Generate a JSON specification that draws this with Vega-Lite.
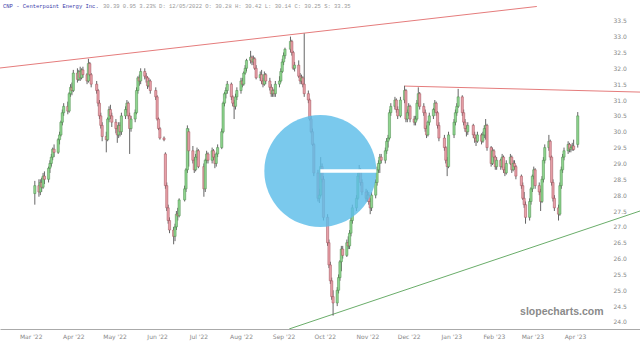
{
"$schema": "https://vega.github.io/schema/vega-lite/v6.json",
"width": 640, "height": 329, "autosize": "none", "padding": {"left": 0, "top": 0, "right": 0, "bottom": 14}, "background": "white",
"config": {"view": {"stroke": null}, "font": "DejaVu Sans", "axis": {"labelOverlap": false, "labelSeparation": 0},
  "axisY": {"labelFontSize": 6, "labelColor": "#888", "domain": false, "ticks": false, "grid": false, "labelPadding": 3},
  "scale": {"continuousPadding": 0}},
"datasets": {
"ohlc": [
{"d":"2022-03-04","o":28.05,"h":28.45,"l":27.7,"c":28.3},
{"d":"2022-03-07","o":28.3,"h":28.5,"l":27.95,"c":28.1},
{"d":"2022-03-08","o":28.1,"h":28.5,"l":28.0,"c":28.4},
{"d":"2022-03-09","o":28.4,"h":28.55,"l":28.1,"c":28.25},
{"d":"2022-03-10","o":28.25,"h":28.7,"l":28.2,"c":28.6},
{"d":"2022-03-11","o":28.6,"h":28.75,"l":28.35,"c":28.5},
{"d":"2022-03-14","o":28.5,"h":28.9,"l":28.4,"c":28.85},
{"d":"2022-03-15","o":28.85,"h":29.1,"l":28.7,"c":29.0},
{"d":"2022-03-16","o":29.0,"h":29.3,"l":28.9,"c":29.2},
{"d":"2022-03-17","o":29.2,"h":29.5,"l":29.1,"c":29.45},
{"d":"2022-03-18","o":29.45,"h":29.6,"l":29.2,"c":29.35},
{"d":"2022-03-21","o":29.35,"h":29.8,"l":29.3,"c":29.75},
{"d":"2022-03-22","o":29.75,"h":30.0,"l":29.6,"c":29.9},
{"d":"2022-03-23","o":29.9,"h":30.35,"l":29.85,"c":30.3},
{"d":"2022-03-24","o":30.3,"h":30.7,"l":30.2,"c":30.6},
{"d":"2022-03-25","o":30.6,"h":30.9,"l":30.5,"c":30.8},
{"d":"2022-03-28","o":30.8,"h":30.95,"l":30.55,"c":30.65},
{"d":"2022-03-29","o":30.65,"h":31.25,"l":30.6,"c":31.2},
{"d":"2022-03-30","o":31.2,"h":31.5,"l":31.1,"c":31.4},
{"d":"2022-03-31","o":31.4,"h":31.55,"l":31.15,"c":31.3},
{"d":"2022-04-01","o":31.3,"h":31.95,"l":31.25,"c":31.85},
{"d":"2022-04-04","o":31.85,"h":32.0,"l":31.55,"c":31.65},
{"d":"2022-04-05","o":31.65,"h":31.95,"l":31.6,"c":31.9},
{"d":"2022-04-06","o":31.9,"h":32.05,"l":31.6,"c":31.7},
{"d":"2022-04-07","o":31.7,"h":32.0,"l":31.65,"c":31.95},
{"d":"2022-04-08","o":31.95,"h":32.05,"l":31.7,"c":31.8},
{"d":"2022-04-11","o":31.8,"h":31.85,"l":31.5,"c":31.6},
{"d":"2022-04-12","o":31.6,"h":32.3,"l":31.55,"c":32.15},
{"d":"2022-04-13","o":32.15,"h":32.2,"l":31.75,"c":31.8},
{"d":"2022-04-14","o":31.8,"h":31.85,"l":31.4,"c":31.5},
{"d":"2022-04-18","o":31.5,"h":31.6,"l":31.2,"c":31.3},
{"d":"2022-04-19","o":31.3,"h":31.35,"l":30.8,"c":30.9},
{"d":"2022-04-20","o":30.9,"h":31.0,"l":30.4,"c":30.5},
{"d":"2022-04-21","o":30.5,"h":30.6,"l":30.1,"c":30.2},
{"d":"2022-04-22","o":30.2,"h":30.3,"l":29.7,"c":29.85},
{"d":"2022-04-25","o":29.85,"h":30.0,"l":29.35,"c":29.75},
{"d":"2022-04-26","o":29.75,"h":30.45,"l":29.7,"c":30.4},
{"d":"2022-04-27","o":30.4,"h":30.8,"l":30.3,"c":30.7},
{"d":"2022-04-28","o":30.7,"h":30.85,"l":30.4,"c":30.5},
{"d":"2022-04-29","o":30.5,"h":30.6,"l":30.15,"c":30.3},
{"d":"2022-05-02","o":30.3,"h":30.4,"l":29.95,"c":30.1},
{"d":"2022-05-03","o":30.1,"h":30.2,"l":29.65,"c":29.9},
{"d":"2022-05-04","o":29.9,"h":30.3,"l":29.8,"c":30.2},
{"d":"2022-05-05","o":30.2,"h":30.3,"l":29.85,"c":30.0},
{"d":"2022-05-06","o":30.0,"h":30.6,"l":29.9,"c":30.5},
{"d":"2022-05-09","o":30.5,"h":30.8,"l":30.4,"c":30.7},
{"d":"2022-05-10","o":30.7,"h":31.0,"l":30.6,"c":30.9},
{"d":"2022-05-11","o":30.9,"h":30.95,"l":30.4,"c":30.5},
{"d":"2022-05-12","o":30.5,"h":30.6,"l":29.3,"c":30.1},
{"d":"2022-05-13","o":30.1,"h":30.5,"l":30.0,"c":30.4},
{"d":"2022-05-16","o":30.4,"h":30.7,"l":30.3,"c":30.6},
{"d":"2022-05-17","o":30.6,"h":31.4,"l":30.55,"c":31.3},
{"d":"2022-05-18","o":31.3,"h":31.75,"l":31.2,"c":31.7},
{"d":"2022-05-19","o":31.7,"h":31.8,"l":31.45,"c":31.6},
{"d":"2022-05-20","o":31.6,"h":32.0,"l":31.5,"c":31.9},
{"d":"2022-05-23","o":31.9,"h":32.0,"l":31.65,"c":31.75},
{"d":"2022-05-24","o":31.75,"h":31.85,"l":31.55,"c":31.7},
{"d":"2022-05-25","o":31.7,"h":31.75,"l":31.35,"c":31.45},
{"d":"2022-05-26","o":31.45,"h":31.7,"l":31.4,"c":31.6},
{"d":"2022-05-27","o":31.6,"h":31.65,"l":31.2,"c":31.3},
{"d":"2022-05-31","o":31.3,"h":31.4,"l":31.0,"c":31.1},
{"d":"2022-06-01","o":31.1,"h":31.15,"l":30.35,"c":30.4},
{"d":"2022-06-02","o":30.4,"h":30.45,"l":30.05,"c":30.1},
{"d":"2022-06-03","o":30.1,"h":30.15,"l":29.75,"c":29.8},
{"d":"2022-06-06","o":29.8,"h":29.85,"l":29.7,"c":29.75},
{"d":"2022-06-07","o":29.3,"h":29.35,"l":28.2,"c":28.3},
{"d":"2022-06-08","o":28.3,"h":28.4,"l":27.5,"c":27.6},
{"d":"2022-06-09","o":27.6,"h":27.7,"l":27.1,"c":27.2},
{"d":"2022-06-10","o":27.2,"h":27.3,"l":26.8,"c":26.9},
{"d":"2022-06-13","o":26.9,"h":27.0,"l":26.45,"c":26.7},
{"d":"2022-06-14","o":26.7,"h":27.1,"l":26.55,"c":27.0},
{"d":"2022-06-15","o":27.0,"h":27.5,"l":26.9,"c":27.4},
{"d":"2022-06-16","o":27.4,"h":27.6,"l":27.2,"c":27.35},
{"d":"2022-06-17","o":27.35,"h":27.9,"l":27.3,"c":27.85},
{"d":"2022-06-21","o":27.85,"h":28.3,"l":27.8,"c":28.2},
{"d":"2022-06-22","o":28.2,"h":28.85,"l":28.1,"c":28.8},
{"d":"2022-06-23","o":28.8,"h":30.2,"l":28.7,"c":30.1},
{"d":"2022-06-24","o":30.0,"h":30.1,"l":28.9,"c":29.4},
{"d":"2022-06-27","o":29.4,"h":29.55,"l":29.0,"c":29.1},
{"d":"2022-06-28","o":29.1,"h":29.2,"l":28.7,"c":28.8},
{"d":"2022-06-29","o":28.8,"h":29.3,"l":28.75,"c":29.2},
{"d":"2022-06-30","o":29.2,"h":29.5,"l":29.1,"c":29.4},
{"d":"2022-07-01","o":29.4,"h":29.45,"l":28.85,"c":28.9},
{"d":"2022-07-05","o":28.9,"h":29.0,"l":27.95,"c":28.2},
{"d":"2022-07-06","o":28.2,"h":29.15,"l":28.1,"c":29.1},
{"d":"2022-07-07","o":29.1,"h":29.4,"l":29.0,"c":29.3},
{"d":"2022-07-08","o":29.3,"h":29.35,"l":29.0,"c":29.1},
{"d":"2022-07-11","o":29.1,"h":29.5,"l":29.0,"c":29.4},
{"d":"2022-07-12","o":29.4,"h":29.45,"l":29.1,"c":29.2},
{"d":"2022-07-13","o":29.2,"h":29.3,"l":28.85,"c":29.0},
{"d":"2022-07-14","o":29.0,"h":29.35,"l":28.9,"c":29.3},
{"d":"2022-07-15","o":29.3,"h":29.6,"l":29.2,"c":29.5},
{"d":"2022-07-18","o":29.5,"h":30.1,"l":29.45,"c":30.0},
{"d":"2022-07-19","o":30.0,"h":30.95,"l":29.95,"c":30.9},
{"d":"2022-07-20","o":30.9,"h":31.25,"l":30.8,"c":31.2},
{"d":"2022-07-21","o":31.2,"h":31.4,"l":31.05,"c":31.3},
{"d":"2022-07-22","o":31.3,"h":31.6,"l":31.2,"c":31.5},
{"d":"2022-07-25","o":31.5,"h":31.55,"l":31.0,"c":31.1},
{"d":"2022-07-26","o":31.1,"h":31.15,"l":30.8,"c":30.9},
{"d":"2022-07-27","o":30.9,"h":31.0,"l":30.4,"c":30.8},
{"d":"2022-07-28","o":30.8,"h":31.2,"l":30.7,"c":31.1},
{"d":"2022-07-29","o":31.1,"h":31.4,"l":31.0,"c":31.3},
{"d":"2022-08-01","o":31.3,"h":31.7,"l":31.2,"c":31.6},
{"d":"2022-08-02","o":31.6,"h":31.7,"l":31.4,"c":31.5},
{"d":"2022-08-03","o":31.5,"h":31.9,"l":31.45,"c":31.85},
{"d":"2022-08-04","o":31.85,"h":32.1,"l":31.8,"c":32.0},
{"d":"2022-08-05","o":32.0,"h":32.3,"l":31.9,"c":32.25},
{"d":"2022-08-08","o":32.25,"h":32.55,"l":32.15,"c":32.35},
{"d":"2022-08-09","o":32.35,"h":32.4,"l":32.1,"c":32.2},
{"d":"2022-08-10","o":32.2,"h":32.4,"l":32.1,"c":32.3},
{"d":"2022-08-11","o":32.3,"h":32.35,"l":31.95,"c":32.0},
{"d":"2022-08-12","o":32.0,"h":32.1,"l":31.65,"c":31.7},
{"d":"2022-08-15","o":31.7,"h":31.9,"l":31.6,"c":31.8},
{"d":"2022-08-16","o":31.8,"h":31.95,"l":31.5,"c":31.6},
{"d":"2022-08-17","o":31.6,"h":31.7,"l":31.4,"c":31.5},
{"d":"2022-08-18","o":31.5,"h":31.9,"l":31.45,"c":31.8},
{"d":"2022-08-19","o":31.8,"h":31.85,"l":31.5,"c":31.6},
{"d":"2022-08-22","o":31.6,"h":31.7,"l":31.3,"c":31.4},
{"d":"2022-08-23","o":31.4,"h":31.5,"l":31.1,"c":31.2},
{"d":"2022-08-24","o":31.2,"h":31.4,"l":31.1,"c":31.3},
{"d":"2022-08-25","o":31.3,"h":31.35,"l":31.1,"c":31.2},
{"d":"2022-08-26","o":31.2,"h":31.6,"l":31.1,"c":31.5},
{"d":"2022-08-29","o":31.5,"h":31.75,"l":31.4,"c":31.6},
{"d":"2022-08-30","o":31.6,"h":32.0,"l":31.55,"c":31.9},
{"d":"2022-08-31","o":31.9,"h":32.3,"l":31.85,"c":32.2},
{"d":"2022-09-01","o":32.2,"h":32.5,"l":32.1,"c":32.4},
{"d":"2022-09-02","o":32.4,"h":32.65,"l":32.3,"c":32.6},
{"d":"2022-09-06","o":32.6,"h":33.0,"l":32.5,"c":32.85},
{"d":"2022-09-07","o":32.85,"h":32.9,"l":32.4,"c":32.5},
{"d":"2022-09-08","o":32.5,"h":32.55,"l":31.95,"c":32.0},
{"d":"2022-09-09","o":32.0,"h":32.2,"l":31.9,"c":32.1},
{"d":"2022-09-12","o":32.1,"h":32.25,"l":31.7,"c":31.75},
{"d":"2022-09-13","o":31.75,"h":31.85,"l":31.5,"c":31.6},
{"d":"2022-09-14","o":31.6,"h":31.8,"l":31.5,"c":31.7},
{"d":"2022-09-15","o":31.7,"h":31.75,"l":31.4,"c":31.5},
{"d":"2022-09-16","o":31.5,"h":33.1,"l":31.1,"c":31.2},
{"d":"2022-09-19","o":31.2,"h":31.3,"l":30.9,"c":31.0},
{"d":"2022-09-20","o":31.0,"h":31.05,"l":30.35,"c":30.4},
{"d":"2022-09-21","o":30.4,"h":30.5,"l":29.95,"c":30.0},
{"d":"2022-09-22","o":30.0,"h":30.1,"l":29.55,"c":29.6},
{"d":"2022-09-23","o":29.6,"h":29.65,"l":28.6,"c":28.7},
{"d":"2022-09-26","o":28.7,"h":28.8,"l":27.8,"c":27.9},
{"d":"2022-09-27","o":27.9,"h":28.2,"l":27.75,"c":28.0},
{"d":"2022-09-28","o":28.0,"h":29.2,"l":27.95,"c":28.9},
{"d":"2022-09-29","o":28.9,"h":29.0,"l":28.4,"c":28.5},
{"d":"2022-09-30","o":28.5,"h":28.6,"l":27.2,"c":27.3},
{"d":"2022-10-03","o":27.3,"h":27.4,"l":26.4,"c":26.5},
{"d":"2022-10-04","o":26.5,"h":26.6,"l":25.7,"c":25.8},
{"d":"2022-10-05","o":25.8,"h":25.9,"l":25.2,"c":25.3},
{"d":"2022-10-06","o":25.3,"h":25.4,"l":24.7,"c":24.8},
{"d":"2022-10-07","o":24.8,"h":25.0,"l":24.2,"c":24.6},
{"d":"2022-10-10","o":24.6,"h":25.1,"l":24.5,"c":25.0},
{"d":"2022-10-11","o":25.0,"h":25.5,"l":24.9,"c":25.4},
{"d":"2022-10-12","o":25.4,"h":25.95,"l":25.3,"c":25.9},
{"d":"2022-10-13","o":25.9,"h":26.4,"l":25.6,"c":26.3},
{"d":"2022-10-14","o":26.3,"h":26.4,"l":26.0,"c":26.1},
{"d":"2022-10-17","o":26.1,"h":26.6,"l":26.05,"c":26.5},
{"d":"2022-10-18","o":26.5,"h":26.7,"l":26.3,"c":26.4},
{"d":"2022-10-19","o":26.4,"h":26.9,"l":26.3,"c":26.8},
{"d":"2022-10-20","o":26.8,"h":27.3,"l":26.7,"c":27.2},
{"d":"2022-10-21","o":27.2,"h":27.7,"l":27.1,"c":27.6},
{"d":"2022-10-24","o":27.6,"h":28.0,"l":27.5,"c":27.9},
{"d":"2022-10-25","o":27.9,"h":28.7,"l":27.85,"c":28.6},
{"d":"2022-10-26","o":28.6,"h":28.95,"l":28.5,"c":28.8},
{"d":"2022-10-27","o":28.8,"h":28.85,"l":28.3,"c":28.4},
{"d":"2022-10-28","o":28.4,"h":28.5,"l":28.0,"c":28.1},
{"d":"2022-10-31","o":28.1,"h":28.2,"l":27.8,"c":27.9},
{"d":"2022-11-01","o":27.9,"h":28.15,"l":27.8,"c":28.0},
{"d":"2022-11-02","o":28.0,"h":28.1,"l":27.7,"c":27.8},
{"d":"2022-11-03","o":27.8,"h":27.9,"l":27.4,"c":27.6},
{"d":"2022-11-04","o":27.6,"h":28.1,"l":27.5,"c":28.0},
{"d":"2022-11-07","o":28.0,"h":28.5,"l":27.9,"c":28.4},
{"d":"2022-11-08","o":28.4,"h":28.9,"l":28.3,"c":28.8},
{"d":"2022-11-09","o":28.8,"h":29.1,"l":28.7,"c":29.0},
{"d":"2022-11-10","o":29.0,"h":29.3,"l":28.7,"c":29.2},
{"d":"2022-11-11","o":29.2,"h":29.3,"l":29.0,"c":29.1},
{"d":"2022-11-14","o":29.1,"h":29.5,"l":29.0,"c":29.4},
{"d":"2022-11-15","o":29.4,"h":29.8,"l":29.3,"c":29.7},
{"d":"2022-11-16","o":29.7,"h":29.9,"l":29.5,"c":29.8},
{"d":"2022-11-17","o":29.8,"h":30.7,"l":29.75,"c":30.6},
{"d":"2022-11-18","o":30.6,"h":30.9,"l":30.5,"c":30.8},
{"d":"2022-11-21","o":30.8,"h":31.1,"l":30.7,"c":31.0},
{"d":"2022-11-22","o":31.0,"h":31.05,"l":30.6,"c":30.7},
{"d":"2022-11-23","o":30.7,"h":30.8,"l":30.4,"c":30.5},
{"d":"2022-11-25","o":30.5,"h":31.1,"l":30.45,"c":31.0},
{"d":"2022-11-28","o":31.0,"h":31.45,"l":30.9,"c":31.3},
{"d":"2022-11-29","o":31.3,"h":31.35,"l":30.3,"c":30.4},
{"d":"2022-11-30","o":30.4,"h":30.7,"l":30.3,"c":30.6},
{"d":"2022-12-01","o":30.6,"h":30.9,"l":30.5,"c":30.8},
{"d":"2022-12-02","o":30.8,"h":30.85,"l":30.3,"c":30.4},
{"d":"2022-12-05","o":30.4,"h":30.5,"l":30.2,"c":30.3},
{"d":"2022-12-06","o":30.3,"h":30.5,"l":30.2,"c":30.4},
{"d":"2022-12-07","o":30.4,"h":31.0,"l":30.35,"c":30.9},
{"d":"2022-12-08","o":30.9,"h":31.4,"l":30.8,"c":31.2},
{"d":"2022-12-09","o":31.2,"h":31.25,"l":30.7,"c":30.8},
{"d":"2022-12-12","o":30.8,"h":30.9,"l":30.5,"c":30.6},
{"d":"2022-12-13","o":30.6,"h":30.7,"l":30.0,"c":30.1},
{"d":"2022-12-14","o":30.1,"h":30.2,"l":29.8,"c":29.9},
{"d":"2022-12-15","o":29.9,"h":30.35,"l":29.85,"c":30.3},
{"d":"2022-12-16","o":30.3,"h":30.6,"l":30.2,"c":30.5},
{"d":"2022-12-19","o":30.5,"h":30.75,"l":30.4,"c":30.7},
{"d":"2022-12-20","o":30.7,"h":31.0,"l":30.6,"c":30.9},
{"d":"2022-12-21","o":30.9,"h":30.95,"l":30.5,"c":30.6},
{"d":"2022-12-22","o":30.6,"h":30.65,"l":30.1,"c":30.2},
{"d":"2022-12-23","o":30.2,"h":30.3,"l":29.7,"c":29.8},
{"d":"2022-12-27","o":29.8,"h":29.9,"l":29.4,"c":29.5},
{"d":"2022-12-28","o":29.5,"h":29.55,"l":29.0,"c":29.1},
{"d":"2022-12-29","o":29.1,"h":29.2,"l":28.6,"c":28.9},
{"d":"2022-12-30","o":28.9,"h":30.0,"l":28.85,"c":29.9},
{"d":"2023-01-03","o":29.9,"h":30.4,"l":29.8,"c":30.3},
{"d":"2023-01-04","o":30.3,"h":30.7,"l":30.2,"c":30.6},
{"d":"2023-01-05","o":30.6,"h":30.9,"l":30.5,"c":30.8},
{"d":"2023-01-06","o":30.8,"h":31.35,"l":30.75,"c":31.1},
{"d":"2023-01-09","o":31.1,"h":31.15,"l":30.5,"c":30.6},
{"d":"2023-01-10","o":30.6,"h":30.7,"l":30.2,"c":30.3},
{"d":"2023-01-11","o":30.3,"h":30.4,"l":30.0,"c":30.1},
{"d":"2023-01-12","o":30.1,"h":30.2,"l":29.85,"c":30.0},
{"d":"2023-01-13","o":30.0,"h":30.3,"l":29.9,"c":30.2},
{"d":"2023-01-17","o":30.2,"h":30.25,"l":29.8,"c":29.9},
{"d":"2023-01-18","o":29.9,"h":30.0,"l":29.65,"c":29.8},
{"d":"2023-01-19","o":29.8,"h":29.9,"l":29.55,"c":29.7},
{"d":"2023-01-20","o":29.7,"h":30.0,"l":29.65,"c":29.9},
{"d":"2023-01-23","o":29.9,"h":29.95,"l":29.6,"c":29.7},
{"d":"2023-01-24","o":29.7,"h":30.0,"l":29.65,"c":29.9},
{"d":"2023-01-25","o":29.9,"h":30.2,"l":29.8,"c":30.1},
{"d":"2023-01-26","o":30.1,"h":30.4,"l":29.75,"c":30.2},
{"d":"2023-01-27","o":30.2,"h":30.25,"l":29.4,"c":29.5},
{"d":"2023-01-30","o":29.5,"h":29.55,"l":28.9,"c":29.0},
{"d":"2023-01-31","o":29.0,"h":29.5,"l":28.95,"c":29.4},
{"d":"2023-02-01","o":29.4,"h":29.45,"l":29.05,"c":29.2},
{"d":"2023-02-02","o":29.2,"h":29.25,"l":28.8,"c":28.9},
{"d":"2023-02-03","o":28.9,"h":29.2,"l":28.8,"c":29.1},
{"d":"2023-02-06","o":29.1,"h":29.15,"l":28.8,"c":28.9},
{"d":"2023-02-07","o":28.9,"h":29.3,"l":28.85,"c":29.2},
{"d":"2023-02-08","o":29.2,"h":29.25,"l":28.7,"c":28.8},
{"d":"2023-02-09","o":28.8,"h":28.9,"l":28.6,"c":28.7},
{"d":"2023-02-10","o":28.7,"h":29.1,"l":28.65,"c":29.0},
{"d":"2023-02-13","o":29.0,"h":29.3,"l":28.95,"c":29.2},
{"d":"2023-02-14","o":29.2,"h":29.25,"l":28.7,"c":28.8},
{"d":"2023-02-15","o":28.8,"h":29.1,"l":28.75,"c":29.0},
{"d":"2023-02-16","o":29.0,"h":29.1,"l":28.8,"c":28.9},
{"d":"2023-02-17","o":28.9,"h":28.95,"l":28.5,"c":28.6},
{"d":"2023-02-21","o":28.6,"h":28.65,"l":28.2,"c":28.3},
{"d":"2023-02-22","o":28.3,"h":28.4,"l":27.85,"c":27.9},
{"d":"2023-02-23","o":27.9,"h":28.1,"l":27.6,"c":27.7},
{"d":"2023-02-24","o":27.7,"h":27.8,"l":27.1,"c":27.3},
{"d":"2023-02-27","o":27.3,"h":27.9,"l":27.2,"c":27.8},
{"d":"2023-02-28","o":27.8,"h":28.25,"l":27.7,"c":28.2},
{"d":"2023-03-01","o":28.2,"h":28.65,"l":28.1,"c":28.6},
{"d":"2023-03-02","o":28.6,"h":28.9,"l":28.5,"c":28.8},
{"d":"2023-03-03","o":28.8,"h":28.85,"l":28.2,"c":28.3},
{"d":"2023-03-06","o":28.3,"h":28.4,"l":28.0,"c":28.1},
{"d":"2023-03-07","o":28.1,"h":28.2,"l":27.5,"c":27.8},
{"d":"2023-03-08","o":27.8,"h":28.6,"l":27.75,"c":28.5},
{"d":"2023-03-09","o":28.5,"h":29.2,"l":28.4,"c":29.1},
{"d":"2023-03-10","o":29.1,"h":29.6,"l":29.0,"c":29.5},
{"d":"2023-03-13","o":29.5,"h":29.9,"l":29.4,"c":29.7},
{"d":"2023-03-14","o":29.7,"h":29.75,"l":29.1,"c":29.2},
{"d":"2023-03-15","o":29.2,"h":29.25,"l":28.3,"c":28.4},
{"d":"2023-03-16","o":28.4,"h":28.5,"l":27.8,"c":27.9},
{"d":"2023-03-17","o":27.9,"h":28.0,"l":27.5,"c":27.6},
{"d":"2023-03-20","o":27.6,"h":27.7,"l":27.2,"c":27.4},
{"d":"2023-03-21","o":27.4,"h":28.4,"l":27.35,"c":28.3},
{"d":"2023-03-22","o":28.3,"h":28.9,"l":28.2,"c":28.8},
{"d":"2023-03-23","o":28.8,"h":29.3,"l":28.7,"c":29.2},
{"d":"2023-03-24","o":29.2,"h":29.5,"l":29.1,"c":29.4},
{"d":"2023-03-27","o":29.4,"h":29.7,"l":29.3,"c":29.6},
{"d":"2023-03-28","o":29.6,"h":29.65,"l":29.35,"c":29.45},
{"d":"2023-03-29","o":29.45,"h":29.6,"l":29.35,"c":29.5},
{"d":"2023-03-30","o":29.5,"h":29.65,"l":29.4,"c":29.55},
{"d":"2023-03-31","o":29.55,"h":29.75,"l":29.4,"c":29.44},
{"d":"2023-04-03","o":29.6,"h":30.62,"l":29.5,"c":30.5}
],
"trendRed1": [{"d":"2022-02-06T16:00:00","p":32.01},{"d":"2023-03-04T05:00:00","p":33.95}],
"trendRed2": [{"d":"2022-11-28T00:00:00","p":31.44},{"d":"2023-05-18T07:00:00","p":31.25}],
"trendGreen": [{"d":"2022-09-05T02:00:00","p":23.78},{"d":"2023-05-18T07:00:00","p":27.5}],
"circle": [{"d":"2022-09-27T17:00:00","p":28.76,"d2":"2022-11-07T12:00:00"}],
"mark": [{"d":"2023-03-22T10:00:00","p":24.32,"t":"slopecharts.com"}],
"header": [{"d":"2022-02-06T16:00:00","p":34.15,"t":"CNP - Centerpoint Energy Inc.","r":"30.39 0.95 3.23% D: 12/05/2022 O: 30.28 H: 30.42 L: 30.14 C: 30.25 S: 33.35"}]
},
"layer": [
{"data": {"name": "trendRed1"}, "mark": {"type": "line", "color": "#e57c7c", "strokeWidth": 1, "clip": true},
 "encoding": {"x": {"field": "d", "type": "temporal", "scale": {"domain": [{"year":2022,"month":2,"date":6,"hours":16},{"year":2023,"month":5,"date":18,"hours":7}], "nice": false, "padding": 0},
   "axis": {"values": [{"year":2022,"month":3,"date":1},{"year":2022,"month":4,"date":1},{"year":2022,"month":5,"date":1},{"year":2022,"month":6,"date":1},{"year":2022,"month":7,"date":1},{"year":2022,"month":8,"date":1},{"year":2022,"month":9,"date":1},{"year":2022,"month":10,"date":1},{"year":2022,"month":11,"date":1},{"year":2022,"month":12,"date":1},{"year":2023,"month":1,"date":1},{"year":2023,"month":2,"date":1},{"year":2023,"month":3,"date":1},{"year":2023,"month":4,"date":1}],
    "format": "%b '%y", "labelFontSize": 6, "labelColor": "#888", "domainColor": "#aaa", "ticks": false, "grid": false, "title": null, "labelPadding": 4, "labelOverlap": false}},
  "y": {"field": "p", "type": "quantitative", "scale": {"domain": [23.779, 34.154], "nice": false, "zero": false, "padding": 0},
   "axis": {"orient": "right", "offset": -30, "title": null, "format": ".1f", "values": [24,24.5,25,25.5,26,26.5,27,27.5,28,28.5,29,29.5,30,30.5,31,31.5,32,32.5,33,33.5]}}}},
{"data": {"name": "trendRed2"}, "mark": {"type": "line", "color": "#e57c7c", "strokeWidth": 1, "clip": true},
 "encoding": {"x": {"field": "d", "type": "temporal"}, "y": {"field": "p", "type": "quantitative", "axis": {"orient": "right", "offset": -30, "title": null, "format": ".1f", "values": [24,24.5,25,25.5,26,26.5,27,27.5,28,28.5,29,29.5,30,30.5,31,31.5,32,32.5,33,33.5]}}}},
{"data": {"name": "trendGreen"}, "mark": {"type": "line", "color": "#6aad6a", "strokeWidth": 1, "clip": true},
 "encoding": {"x": {"field": "d", "type": "temporal"}, "y": {"field": "p", "type": "quantitative", "axis": {"orient": "right", "offset": -30, "title": null, "format": ".1f", "values": [24,24.5,25,25.5,26,26.5,27,27.5,28,28.5,29,29.5,30,30.5,31,31.5,32,32.5,33,33.5]}}}},
{"data": {"name": "ohlc"}, "mark": {"type": "rule", "color": "#666", "strokeWidth": 1},
 "encoding": {"x": {"field": "d", "type": "temporal"}, "y": {"field": "l", "type": "quantitative", "axis": {"orient": "right", "offset": -30, "title": null, "format": ".1f", "values": [24,24.5,25,25.5,26,26.5,27,27.5,28,28.5,29,29.5,30,30.5,31,31.5,32,32.5,33,33.5]}}, "y2": {"field": "h"}}},
{"data": {"name": "ohlc"}, "mark": {"type": "bar", "width": 2.2, "strokeWidth": 0.5},
 "encoding": {"x": {"field": "d", "type": "temporal"}, "y": {"field": "o", "type": "quantitative", "axis": {"orient": "right", "offset": -30, "title": null, "format": ".1f", "values": [24,24.5,25,25.5,26,26.5,27,27.5,28,28.5,29,29.5,30,30.5,31,31.5,32,32.5,33,33.5]}}, "y2": {"field": "c"},
  "fill": {"condition": {"test": "datum.c >= datum.o", "value": "#8fd68f"}, "value": "#e8a0a8"},
  "stroke": {"condition": {"test": "datum.c >= datum.o", "value": "#4d8a4d"}, "value": "#a0505a"}}},
{"data": {"name": "circle"}, "mark": {"type": "point", "shape": "circle", "filled": true, "size": 12544, "color": "#5dbde9", "opacity": 0.82, "strokeWidth": 0},
 "encoding": {"x": {"field": "d", "type": "temporal"}, "y": {"field": "p", "type": "quantitative", "axis": {"orient": "right", "offset": -30, "title": null, "format": ".1f", "values": [24,24.5,25,25.5,26,26.5,27,27.5,28,28.5,29,29.5,30,30.5,31,31.5,32,32.5,33,33.5]}}}},
{"data": {"name": "circle"}, "mark": {"type": "rule", "color": "white", "strokeWidth": 3.5},
 "encoding": {"x": {"field": "d", "type": "temporal"}, "x2": {"field": "d2"}, "y": {"field": "p", "type": "quantitative", "axis": {"orient": "right", "offset": -30, "title": null, "format": ".1f", "values": [24,24.5,25,25.5,26,26.5,27,27.5,28,28.5,29,29.5,30,30.5,31,31.5,32,32.5,33,33.5]}}}},
{"data": {"name": "mark"}, "mark": {"type": "text", "font": "Liberation Sans", "fontWeight": "bold", "fontSize": 10.5, "color": "#8a8a8a", "align": "center", "baseline": "middle"},
 "encoding": {"x": {"field": "d", "type": "temporal"}, "y": {"field": "p", "type": "quantitative", "axis": {"orient": "right", "offset": -30, "title": null, "format": ".1f", "values": [24,24.5,25,25.5,26,26.5,27,27.5,28,28.5,29,29.5,30,30.5,31,31.5,32,32.5,33,33.5]}}, "text": {"field": "t"}}},
{"data": {"name": "header"}, "mark": {"type": "text", "font": "Liberation Mono", "fontSize": 5.5, "color": "#3a3aa8", "align": "left", "baseline": "middle", "dx": 3, "dy": 6},
 "encoding": {"x": {"field": "d", "type": "temporal"}, "y": {"field": "p", "type": "quantitative", "axis": {"orient": "right", "offset": -30, "title": null, "format": ".1f", "values": [24,24.5,25,25.5,26,26.5,27,27.5,28,28.5,29,29.5,30,30.5,31,31.5,32,32.5,33,33.5]}}, "text": {"field": "t"}}},
{"data": {"name": "header"}, "mark": {"type": "text", "font": "Liberation Mono", "fontSize": 5.5, "color": "#999", "align": "left", "baseline": "middle", "dx": 103, "dy": 6},
 "encoding": {"x": {"field": "d", "type": "temporal"}, "y": {"field": "p", "type": "quantitative", "axis": {"orient": "right", "offset": -30, "title": null, "format": ".1f", "values": [24,24.5,25,25.5,26,26.5,27,27.5,28,28.5,29,29.5,30,30.5,31,31.5,32,32.5,33,33.5]}}, "text": {"field": "r"}}}
]
}
